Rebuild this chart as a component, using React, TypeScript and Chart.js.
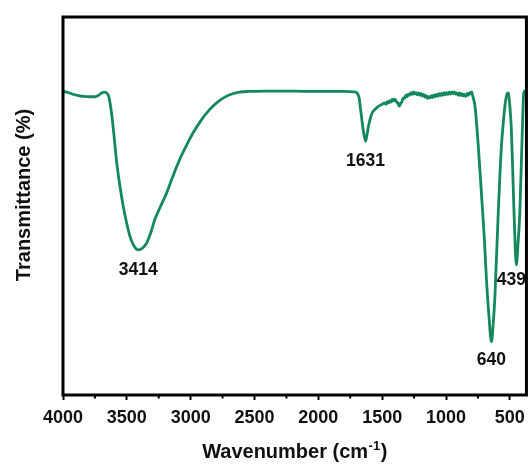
import React, { useEffect, useRef } from 'react';
import { Chart, registerables } from 'chart.js';

Chart.register(...registerables);

// Wavenumber (cm-1), descending
const wavenumbers = [
  3998, 3950, 3917, 3880, 3839, 3790, 3748, 3725, 3700, 3675, 3655, 3640, 3620, 3600,
  3579, 3555, 3528, 3500, 3475, 3445, 3411, 3380, 3345, 3310, 3281, 3240, 3189, 3140,
  3086, 3030, 2982, 2920, 2852, 2790, 2722, 2670, 2618, 2550, 2400, 2200, 2000, 1800,
  1722, 1696, 1680, 1669, 1650, 1630, 1618, 1605, 1590, 1579, 1555, 1527, 1500, 1480,
  1470, 1460, 1450, 1440, 1430, 1420, 1410, 1400, 1390, 1380, 1370, 1365, 1355, 1345,
  1335, 1325, 1315, 1305, 1295, 1285, 1275, 1265, 1255, 1245, 1235, 1225, 1215, 1205,
  1195, 1185, 1175, 1165, 1155, 1145, 1135, 1125, 1115, 1105, 1095, 1085, 1075, 1065,
  1055, 1045, 1035, 1025, 1015, 1005, 995, 985, 975, 965, 955, 945, 935, 925,
  915, 905, 895, 885, 875, 865, 855, 845, 835, 825, 815, 805, 799, 790, 773,
  747, 721, 700, 683, 665, 644, 630, 617, 591, 566, 550, 539, 525, 513, 500, 488,
  467, 449, 436, 422, 402, 391, 380,
];

// Transmittance (%), same order
const transmittance = [
  80.3, 79.9, 79.5, 79.2, 79.0, 78.9, 78.9, 79.2, 79.8, 80.1, 79.8, 78.8, 74.6, 68.5,
  61.4, 55.5, 49.9, 45.3, 41.9, 39.5, 38.4, 38.8, 40.2, 43.2, 46.4, 49.6, 53.4, 57.8,
  62.3, 66.2, 69.3, 72.6, 75.5, 77.5, 79.0, 79.7, 80.1, 80.3, 80.4, 80.4, 80.3, 80.3,
  80.2, 79.9, 78.5, 75.5, 70.5, 67.1, 69.0, 71.5, 73.5, 74.6, 75.6, 76.4, 76.9, 77.3,
  76.9, 77.6, 77.2, 77.9, 77.5, 78.3, 77.8, 78.3, 77.6, 77.4, 76.6, 76.4, 77.2, 77.6,
  78.6, 78.5, 79.3, 78.9, 79.6, 79.3, 80.0, 79.5, 80.2, 79.6, 80.0, 79.4, 79.9, 79.3,
  79.8, 79.1, 79.5, 78.8, 79.2, 78.5, 78.9, 78.6, 79.2, 78.7, 79.4, 78.9, 79.5, 79.0,
  79.7, 79.2, 79.8, 79.3, 80.0, 79.4, 80.0, 79.5, 80.1, 79.6, 80.2, 79.7, 80.2, 79.6,
  79.9, 79.3, 79.9, 79.2, 79.7, 79.1, 79.5, 79.0, 79.8, 79.3, 80.0, 79.7, 80.2, 79.0, 76.4,
  65.8, 52.5, 41.5, 30.5, 21.5, 14.1, 19.0, 26.0, 48.1, 65.8, 72.5, 76.4, 79.3, 79.9, 76.5, 70.2,
  48.1, 34.4, 40.0, 48.1, 70.2, 79.9, 80.5,
];

const majorTicks = [4000, 3500, 3000, 2500, 2000, 1500, 1000, 500];
const minorTicks = [3750, 3250, 2750, 2250, 1750, 1250, 750];

const peakLabels = ['3414', '1631', '640', '439'];
const peakWavenumbers = [3411, 1630, 644, 449];

const xAxisTitle = 'Wavenumber (cm';
const xAxisTitleSup = '-1';
const xAxisTitleEnd = ')';
const yAxisTitle = 'Transmittance (%)';

const FONT = '"Liberation Sans", Arial, Helvetica, sans-serif';
const LINE_COLOR = '#12885B';

// label offsets (styling only)
const peakLabelOffsets: [number, number][] = [
  [0, 20],
  [0, 20],
  [0, 18],
  [-5, 15],
];

const decorPlugin = {
  id: 'decor',
  afterDraw(chart: any) {
    const { ctx, chartArea, scales } = chart;
    const { left, right, top, bottom } = chartArea;
    const x = scales.x;
    const y = scales.y;
    ctx.save();
    // frame
    ctx.strokeStyle = '#000';
    ctx.lineWidth = 3;
    ctx.strokeRect(left, top, right - left, bottom - top);
    // minor ticks
    ctx.lineWidth = 2;
    minorTicks.forEach((v) => {
      const px = x.getPixelForValue(v);
      ctx.beginPath();
      ctx.moveTo(px, bottom);
      ctx.lineTo(px, bottom + 3.5);
      ctx.stroke();
    });
    // peak labels
    ctx.fillStyle = '#111';
    ctx.font = `bold 17.5px ${FONT}`;
    ctx.textAlign = 'center';
    ctx.textBaseline = 'middle';
    peakLabels.forEach((label, i) => {
      const w = peakWavenumbers[i];
      const idx = wavenumbers.indexOf(w);
      const t = transmittance[idx];
      const px = x.getPixelForValue(w) + peakLabelOffsets[i][0];
      const py = y.getPixelForValue(t) + peakLabelOffsets[i][1];
      ctx.fillText(label, px, py);
    });
    // y title
    ctx.save();
    ctx.translate(24, 195);
    ctx.rotate(-Math.PI / 2);
    ctx.font = `bold 20px ${FONT}`;
    ctx.textAlign = 'center';
    ctx.textBaseline = 'middle';
    ctx.fillText(yAxisTitle, 0, 0);
    ctx.restore();
    // x title with superscript
    ctx.textBaseline = 'alphabetic';
    ctx.textAlign = 'left';
    const mainFont = `bold 20px ${FONT}`;
    const supFont = `bold 13px ${FONT}`;
    ctx.font = mainFont;
    const w1 = ctx.measureText(xAxisTitle).width;
    const w3 = ctx.measureText(xAxisTitleEnd).width;
    ctx.font = supFont;
    const w2 = ctx.measureText(xAxisTitleSup).width;
    const total = w1 + w2 + w3 + 1;
    const cx = (left + right) / 2;
    let sx = cx - total / 2;
    const baseY = 458;
    ctx.font = mainFont;
    ctx.fillText(xAxisTitle, sx, baseY);
    sx += w1 + 0.5;
    ctx.font = supFont;
    ctx.fillText(xAxisTitleSup, sx, baseY - 8);
    sx += w2 + 0.5;
    ctx.font = mainFont;
    ctx.fillText(xAxisTitleEnd, sx, baseY);
    ctx.restore();
  },
};

export default function App() {
  const canvasRef = useRef<HTMLCanvasElement | null>(null);

  useEffect(() => {
    if (!canvasRef.current) return;
    const points = wavenumbers.map((w, i) => ({ x: w, y: transmittance[i] }));
    const chart = new Chart(canvasRef.current, {
      type: 'line',
      data: {
        datasets: [
          {
            data: points,
            borderColor: LINE_COLOR,
            borderWidth: 2.8,
            pointRadius: 0,
            fill: false,
            cubicInterpolationMode: 'monotone',
          },
        ],
      },
      options: {
        responsive: false,
        animation: false,
        layout: { padding: { left: 63, right: 4, top: 17, bottom: 0 } },
        plugins: { legend: { display: false }, tooltip: { enabled: false } },
        scales: {
          x: {
            type: 'linear',
            reverse: true,
            min: 370,
            max: 4000,
            afterBuildTicks: (scale: any) => {
              scale.ticks = majorTicks.map((v) => ({ value: v }));
            },
            afterFit: (scale: any) => {
              scale.height = 71;
            },
            ticks: {
              autoSkip: false,
              maxRotation: 0,
              padding: 7,
              color: '#111',
              font: { family: FONT, size: 18, weight: 'bold' },
              callback: (v: any) => String(v),
            },
            grid: {
              display: true,
              drawOnChartArea: false,
              drawTicks: true,
              tickLength: 5,
              tickWidth: 2,
              tickColor: '#000',
              color: '#000',
            },
            border: { display: false },
          },
          y: {
            display: false,
            min: 0,
            max: 100,
          },
        },
      },
      plugins: [decorPlugin],
    } as any);
    return () => chart.destroy();
  }, []);

  return (
    <div style={{ position: 'fixed', left: 0, top: 0, width: 532, height: 466, background: '#fff' }}>
      <canvas ref={canvasRef} width={532} height={466} style={{ display: 'block' }} />
    </div>
  );
}
